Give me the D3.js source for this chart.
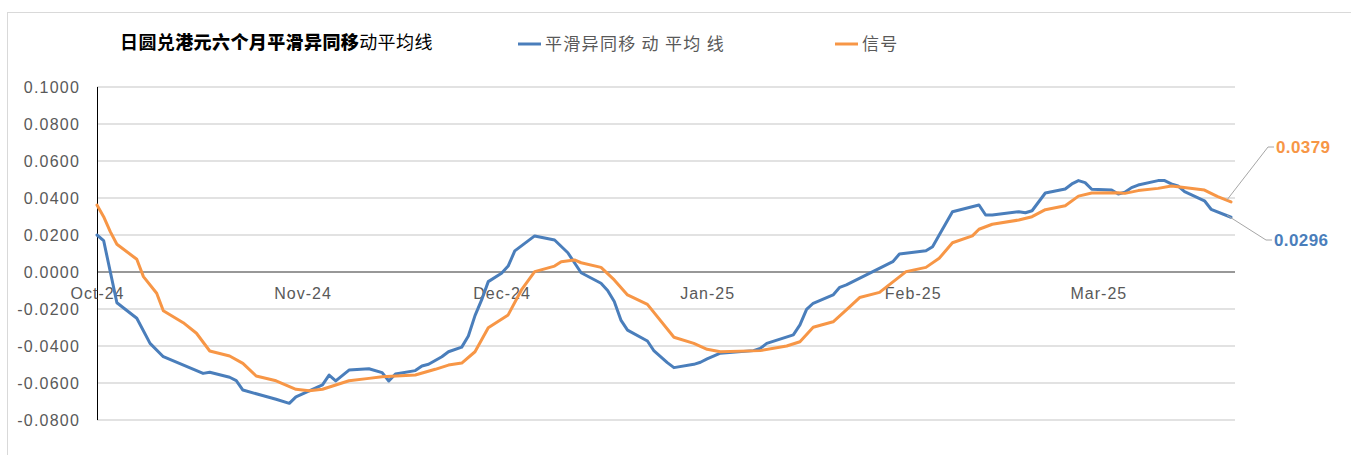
<!DOCTYPE html>
<html>
<head>
<meta charset="utf-8">
<script src="https://cdn.jsdelivr.net/npm/d3@7"></script>
<style>
  body { margin: 0; background: #fff; }
  svg text { font-family: "Liberation Sans", Arial, sans-serif; }
  .cjk { font-family: "Noto Sans CJK SC", "Noto Sans", sans-serif !important; }
</style>
</head>
<body>
<svg id="chart"></svg>
<script>
// MACD (平滑异同移动平均线)
const macdDates = ["2024-10-01","2024-10-02","2024-10-04","2024-10-07","2024-10-09","2024-10-11","2024-10-17","2024-10-18","2024-10-21","2024-10-22","2024-10-23","2024-10-28","2024-10-30","2024-10-31","2024-11-04","2024-11-05","2024-11-06","2024-11-08","2024-11-11","2024-11-13","2024-11-14","2024-11-15","2024-11-18","2024-11-19","2024-11-20","2024-11-22","2024-11-23","2024-11-25","2024-11-26","2024-11-27","2024-11-28","2024-11-29","2024-12-01","2024-12-02","2024-12-03","2024-12-04","2024-12-06","2024-12-09","2024-12-11","2024-12-13","2024-12-16","2024-12-17","2024-12-18","2024-12-19","2024-12-20","2024-12-23","2024-12-24","2024-12-26","2024-12-27","2024-12-30","2024-12-31","2025-01-01","2025-01-03","2025-01-08","2025-01-09","2025-01-10","2025-01-14","2025-01-15","2025-01-16","2025-01-17","2025-01-20","2025-01-21","2025-01-22","2025-01-29","2025-01-30","2025-02-03","2025-02-04","2025-02-05","2025-02-07","2025-02-11","2025-02-12","2025-02-13","2025-02-17","2025-02-18","2025-02-19","2025-02-21","2025-02-24","2025-02-25","2025-02-26","2025-02-27","2025-02-28","2025-03-03","2025-03-04","2025-03-05","2025-03-06","2025-03-07","2025-03-10","2025-03-11","2025-03-12","2025-03-13","2025-03-14","2025-03-17","2025-03-18","2025-03-21"];
const macdValues = [0.0200,0.0170,-0.0166,-0.0250,-0.0386,-0.0458,-0.0548,-0.0542,-0.0569,-0.0587,-0.0638,-0.0688,-0.0710,-0.0675,-0.0610,-0.0557,-0.0589,-0.0530,-0.0523,-0.0544,-0.0589,-0.0551,-0.0533,-0.0508,-0.0499,-0.0458,-0.0431,-0.0406,-0.0346,-0.0236,-0.0151,-0.0052,-0.0007,0.0032,0.0114,0.0141,0.0195,0.0173,0.0104,-0.0004,-0.0061,-0.0100,-0.0160,-0.0260,-0.0314,-0.0373,-0.0427,-0.0490,-0.0517,-0.0499,-0.0488,-0.0470,-0.0439,-0.0425,-0.0413,-0.0386,-0.0340,-0.0286,-0.0202,-0.0169,-0.0124,-0.0083,-0.0070,0.0056,0.0097,0.0115,0.0137,0.0200,0.0326,0.0362,0.0308,0.0308,0.0326,0.0320,0.0331,0.0427,0.0449,0.0476,0.0494,0.0483,0.0447,0.0443,0.0422,0.0431,0.0456,0.0470,0.0494,0.0494,0.0476,0.0465,0.0434,0.0385,0.0339,0.0296];

// 信号 line
const signalDates = ["2024-10-01","2024-10-02","2024-10-03","2024-10-04","2024-10-07","2024-10-08","2024-10-10","2024-10-11","2024-10-14","2024-10-16","2024-10-18","2024-10-21","2024-10-23","2024-10-25","2024-10-28","2024-10-31","2024-11-02","2024-11-04","2024-11-06","2024-11-08","2024-11-11","2024-11-13","2024-11-18","2024-11-21","2024-11-23","2024-11-25","2024-11-27","2024-11-29","2024-12-02","2024-12-04","2024-12-06","2024-12-09","2024-12-10","2024-12-12","2024-12-13","2024-12-16","2024-12-18","2024-12-20","2024-12-23","2024-12-27","2024-12-30","2025-01-01","2025-01-03","2025-01-09","2025-01-13","2025-01-15","2025-01-17","2025-01-20","2025-01-22","2025-01-24","2025-01-27","2025-01-31","2025-02-03","2025-02-05","2025-02-07","2025-02-10","2025-02-11","2025-02-13","2025-02-17","2025-02-19","2025-02-21","2025-02-24","2025-02-26","2025-02-28","2025-03-04","2025-03-05","2025-03-07","2025-03-10","2025-03-12","2025-03-13","2025-03-17","2025-03-19","2025-03-21"];
const signalValues = [0.0362,0.0299,0.0218,0.0150,0.0069,-0.0025,-0.0115,-0.0209,-0.0274,-0.0331,-0.0427,-0.0454,-0.0494,-0.0562,-0.0588,-0.0634,-0.0642,-0.0634,-0.0611,-0.0588,-0.0575,-0.0566,-0.0557,-0.0526,-0.0503,-0.0492,-0.0431,-0.0301,-0.0232,-0.0097,0.0002,0.0032,0.0056,0.0065,0.0050,0.0025,-0.0043,-0.0124,-0.0175,-0.0353,-0.0386,-0.0418,-0.0431,-0.0425,-0.0400,-0.0377,-0.0299,-0.0269,-0.0205,-0.0138,-0.0110,0.0002,0.0025,0.0074,0.0158,0.0195,0.0231,0.0258,0.0281,0.0299,0.0337,0.0358,0.0410,0.0427,0.0428,0.0425,0.0440,0.0452,0.0465,0.0461,0.0443,0.0407,0.0379];

const yTicks = [-0.08,-0.06,-0.04,-0.02,0,0.02,0.04,0.06,0.08,0.1];
const seriesNames = ["平滑异同移 动 平均 线", "信号"];
const seriesColors = ["#4a7ebb", "#f79646"];
const chartTitle = ["日圆兑", "港元六个月平滑异同移", "动平均线"];

const W = 1351, H = 455;
const plot = {left: 97, right: 1235, top: 87, bottom: 420};

const parse = d3.timeParse("%Y-%m-%d");
const macd = macdDates.map((d, i) => ({date: parse(d), value: macdValues[i]}));
const signal = signalDates.map((d, i) => ({date: parse(d), value: signalValues[i]}));

const svg = d3.select("#chart").attr("width", W).attr("height", H);

// outer chart frame
svg.append("rect")
    .attr("x", 7.5).attr("y", 12.5)
    .attr("width", 1400).attr("height", 500)
    .attr("fill", "#fff").attr("stroke", "#d9d9d9");

const x = d3.scaleTime()
    .domain([macd[0].date, macd[macd.length - 1].date])
    .range([plot.left, 1231]);
const y = d3.scaleLinear()
    .domain([-0.08, 0.1])
    .range([plot.bottom, plot.top]);

// gridlines
svg.append("g")
    .selectAll("line")
    .data(yTicks.filter(d => d !== 0))
    .join("line")
    .attr("x1", plot.left).attr("x2", plot.right)
    .attr("y1", d => y(d)).attr("y2", d => y(d))
    .attr("stroke", "#d9d9d9").attr("stroke-width", 1.5);

// zero line
svg.append("line")
    .attr("x1", plot.left).attr("x2", plot.right)
    .attr("y1", y(0)).attr("y2", y(0))
    .attr("stroke", "#767676").attr("stroke-width", 1.5);

// y axis
const yAxis = svg.append("g")
    .attr("transform", `translate(${plot.left},0)`)
    .call(d3.axisLeft(y).tickValues(yTicks).tickSize(0).tickPadding(17)
        .tickFormat(d => d.toFixed(4)));
yAxis.select(".domain").remove();
yAxis.selectAll("text")
    .attr("font-size", 16).attr("fill", "#595959")
    .attr("letter-spacing", 1.2)
    .style("font-family", "'Liberation Sans', Arial, sans-serif");

svg.append("line")
    .attr("x1", plot.left + 0.5).attr("x2", plot.left + 0.5)
    .attr("y1", plot.top).attr("y2", plot.bottom)
    .attr("stroke", "#000").attr("stroke-width", 1);

// x axis labels sit just under the zero line
const xAxis = svg.append("g")
    .attr("transform", `translate(0,${y(0)})`)
    .call(d3.axisBottom(x).ticks(d3.timeMonth.every(1)).tickSize(0).tickPadding(16)
        .tickFormat(d3.timeFormat("%b-%y")));
xAxis.select(".domain").remove();
xAxis.selectAll("text")
    .attr("font-size", 16).attr("fill", "#595959")
    .attr("letter-spacing", 1)
    .style("font-family", "'Liberation Sans', Arial, sans-serif");

// lines
const line = d3.line().x(d => x(d.date)).y(d => y(d.value));
[macd, signal].forEach((s, i) => {
    svg.append("path")
        .datum(s)
        .attr("d", line)
        .attr("fill", "none")
        .attr("stroke", seriesColors[i])
        .attr("stroke-width", 3)
        .attr("stroke-linejoin", "round")
        .attr("stroke-linecap", "round");
});

// end labels with leader lines
const ends = [
    {p: signal[signal.length - 1], color: seriesColors[1], lx: 1268, ly: 147},
    {p: macd[macd.length - 1], color: seriesColors[0], lx: 1266, ly: 240}
];
ends.forEach(e => {
    svg.append("polyline")
        .attr("points", `${x(e.p.date) - 4},${y(e.p.value) - 2} ${e.lx},${e.ly} ${e.lx + 6},${e.ly}`)
        .attr("fill", "none").attr("stroke", "#a6a6a6").attr("stroke-width", 1);
    svg.append("text")
        .attr("x", e.lx + 8).attr("y", e.ly + 6)
        .attr("font-size", 17).attr("font-weight", "bold")
        .attr("letter-spacing", 0.4)
        .attr("fill", e.color)
        .text(e.p.value.toFixed(4));
});

// title
const title = svg.append("text")
    .attr("class", "cjk")
    .attr("x", 120).attr("y", 49)
    .attr("font-size", 18).attr("fill", "#000")
    .attr("letter-spacing", 0.4);
title.append("tspan").attr("font-weight", 700).text(chartTitle[0]);
title.append("tspan").attr("font-weight", 900).text(chartTitle[1]);
title.append("tspan").attr("font-weight", 400).text(chartTitle[2]);

// legend
const legendX = [518, 835];
seriesNames.forEach((name, i) => {
    svg.append("line")
        .attr("x1", legendX[i]).attr("x2", legendX[i] + 23)
        .attr("y1", 44).attr("y2", 44)
        .attr("stroke", seriesColors[i]).attr("stroke-width", 3);
    svg.append("text")
        .attr("class", "cjk")
        .attr("x", legendX[i] + 27).attr("y", 50)
        .attr("font-size", 17).attr("fill", "#595959")
        .attr("letter-spacing", 1.3)
        .style("white-space", "pre")
        .text(name);
});
</script>
</body>
</html>
